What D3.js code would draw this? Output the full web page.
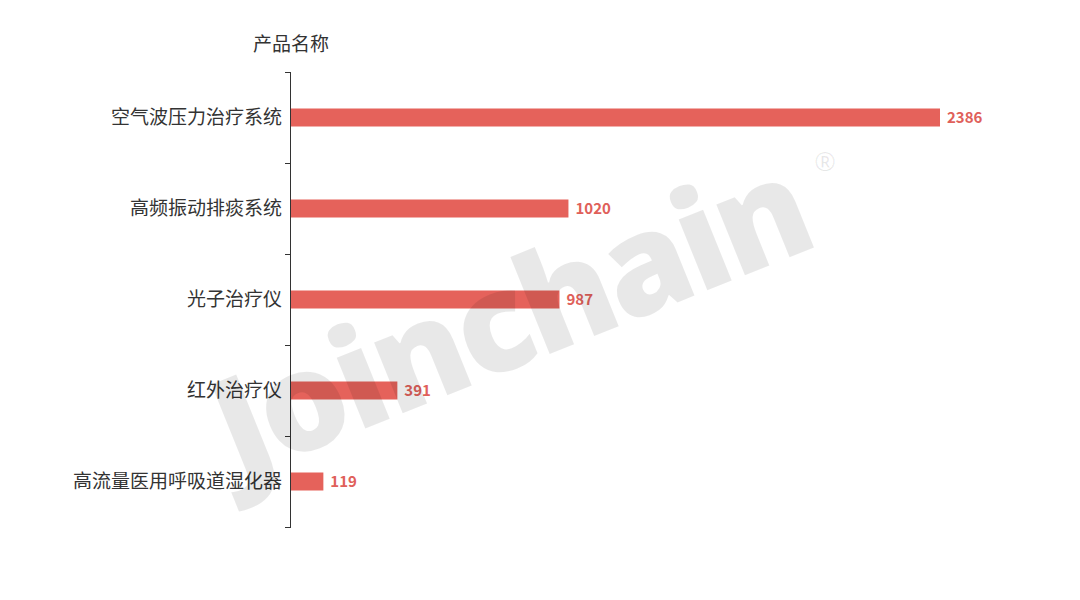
<!DOCTYPE html>
<html><head><meta charset="utf-8">
<script src="https://cdn.jsdelivr.net/npm/d3@7"></script>
<style>html,body{margin:0;padding:0;background:#fff;}</style>
</head><body>
<svg id="chart" width="1080" height="600"></svg>
<script>
const categories = ["空气波压力治疗系统","高频振动排痰系统","光子治疗仪","红外治疗仪","高流量医用呼吸道湿化器"];
const values = [2386, 1020, 987, 391, 119];
const axisTitle = "产品名称";
const watermark = "Joinchain";

(function(){
const svg = d3.select("#chart");
const pLeft = 291, pRight = 940, pTop = 72, pBottom = 527;
const x = d3.scaleLinear().domain([0, d3.max(values)]).range([pLeft, pRight]);
const y = d3.scaleBand().domain(categories).range([pTop, pBottom]);
const font = "'Noto Sans CJK SC','Microsoft YaHei',sans-serif";

// bars
svg.append("g").selectAll("rect").data(values).join("rect")
  .attr("x", x(0))
  .attr("y", (d,i) => y(categories[i]) + y.bandwidth()/2 - 9)
  .attr("width", d => x(d) - x(0))
  .attr("height", 18)
  .attr("fill", "#e5625b");

// value labels
svg.append("g").selectAll("text").data(values).join("text")
  .attr("x", d => x(d) + 7)
  .attr("y", (d,i) => y(categories[i]) + y.bandwidth()/2)
  .attr("dy", "0.35em")
  .attr("font-family", font).attr("font-weight", "bold").attr("font-size", 15)
  .attr("fill", "#e0605a")
  .text(d => d);

// y axis
const g = svg.append("g").attr("transform", `translate(${pLeft},0)`);
g.append("path").attr("d", `M-0.5,${pTop}V${pBottom}`).attr("stroke", "#333").attr("fill","none");
const bounds = d3.range(categories.length + 1).map(i => pTop + i * y.step());
g.selectAll("line.b").data(bounds).join("line").attr("class","b")
  .attr("x1", -6).attr("x2", 0).attr("y1", d => Math.round(d)+0.5).attr("y2", d => Math.round(d)+0.5)
  .attr("stroke", "#333");
g.selectAll("text.lab").data(categories).join("text").attr("class","lab")
  .attr("x", -9).attr("y", d => y(d) + y.bandwidth()/2).attr("dy","0.35em")
  .attr("text-anchor","end").attr("font-family", font).attr("font-size", 19)
  .attr("fill", "#333").text(d => d);

// axis title
svg.append("text").attr("x", 291).attr("y", 44).attr("dy","0.35em")
  .attr("text-anchor","middle").attr("font-family", font).attr("font-size", 19)
  .attr("fill", "#333").text(axisTitle);

// watermark
const wm = svg.append("g").attr("transform", "translate(238,480) rotate(-22)");
wm.append("text").attr("x", 0).attr("y", 0)
  .attr("font-family", "'Open Sans','DejaVu Sans',sans-serif").attr("font-weight", 800)
  .attr("font-size", 138).attr("textLength", 630).attr("lengthAdjust", "spacing")
  .attr("fill", "rgba(0,0,0,0.09)").text(watermark);
svg.append("text").attr("x", 825).attr("y", 162).attr("text-anchor","middle").attr("dy","0.35em")
  .attr("font-family", "'Open Sans',sans-serif").attr("font-size", 26)
  .attr("fill", "rgba(0,0,0,0.09)").text("®");
})();
</script>
</body></html>
